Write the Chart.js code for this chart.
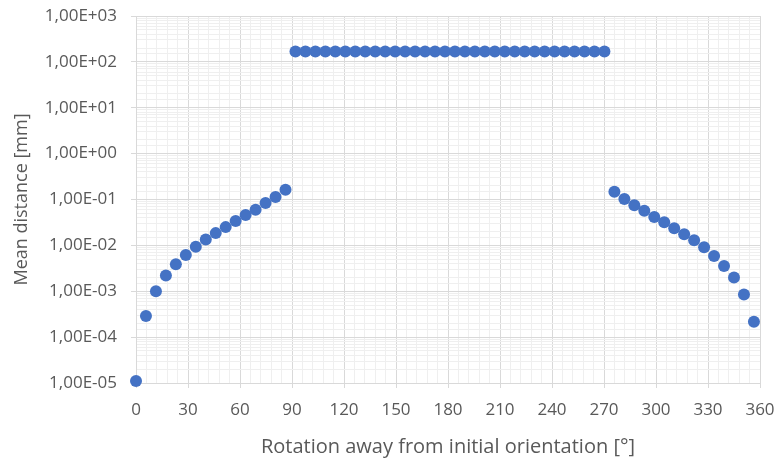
<!DOCTYPE html>
<html>
<head>
<meta charset="utf-8">
<script src="https://cdn.jsdelivr.net/npm/chart.js@4/dist/chart.umd.min.js"></script>
<style>
  html, body { margin: 0; padding: 0; background: #ffffff; }
  #wrap { width: 779px; height: 463px; }
</style>
</head>
<body>
<div id="wrap"><canvas id="distChart" width="779" height="463"></canvas></div>
<script>
// Rotation angle of each sample [deg]
const angleDeg = [
    0, 5.75, 11.5, 17.25, 23, 28.75, 34.5, 40.25, 46, 51.75, 57.5, 63.25, 69, 74.75, 80.5, 86.25,
    92, 97.75, 103.5, 109.25, 115, 120.75, 126.5, 132.25, 138, 143.75, 149.5, 155.25, 161, 166.75, 172.5, 178.25,
    184, 189.75, 195.5, 201.25, 207, 212.75, 218.5, 224.25, 230, 235.75, 241.5, 247.25, 253, 258.75, 264.5, 270.25,
    276, 281.75, 287.5, 293.25, 299, 304.75, 310.5, 316.25, 322, 327.75, 333.5, 339.25, 345, 350.75, 356.5
];

// Mean distance [mm] for each angle
const meanDistance = [
    1.1e-5, 2.9e-4, 1.0e-3, 2.2e-3, 3.9e-3, 6.2e-3, 9.3e-3, 1.35e-2, 1.85e-2, 2.5e-2, 3.4e-2, 4.6e-2, 6.0e-2, 8.4e-2, 0.113, 0.163,
    168, 168, 168, 168, 168, 168, 168, 168, 168, 168, 168, 168, 168, 168, 168, 168,
    168, 168, 168, 168, 168, 168, 168, 168, 168, 168, 168, 168, 168, 168, 168, 168,
    0.147, 0.102, 0.075, 0.057, 0.0414, 0.0318, 0.0236, 0.0175, 0.0129, 9.1e-3, 5.9e-3, 3.56e-3, 2.0e-3, 8.5e-4, 2.17e-4
];

const xMin = 0, xMax = 360, xMajor = 30, xMinor = 6;
const yMin = 1e-5, yMax = 1e3;

const textColor = '#595959';
const majorGrid = '#d9d9d9';
const minorGrid = '#efefef';
const fontName = 'Open Sans';

function isPow10(v) {
    const e = Math.log10(v);
    return Math.abs(e - Math.round(e)) < 1e-6;
}

// Excel style "1,00E+03"
function sciLabel(v) {
    const e = Math.round(Math.log10(v));
    const sign = e < 0 ? '-' : '+';
    const a = Math.abs(e);
    return '1,00E' + sign + (a < 10 ? '0' + a : a);
}

const points = angleDeg.map((a, i) => ({ x: a, y: meanDistance[i] }));

const ctx = document.getElementById('distChart').getContext('2d');
const chart = new Chart(ctx, {
    type: 'scatter',
    data: {
        datasets: [{
            data: points,
            backgroundColor: '#4472c4',
            borderWidth: 0,
            pointRadius: 6,
            pointHoverRadius: 6,
            clip: false
        }]
    },
    options: {
        responsive: false,
        animation: false,
        devicePixelRatio: 1,
        layout: { padding: { top: 16, right: 19, left: 0, bottom: 0 } },
        plugins: {
            legend: { display: false },
            tooltip: { enabled: false }
        },
        scales: {
            x: {
                type: 'linear',
                min: xMin,
                max: xMax,
                afterFit: function(scale) {
                    scale.height = 80;
                    scale.paddingLeft = 0;
                    scale.paddingRight = 0;
                },
                ticks: {
                    stepSize: xMinor,
                    autoSkip: false,
                    maxRotation: 0,
                    padding: 12,
                    color: textColor,
                    font: { family: fontName, size: 17 },
                    callback: function(v) { return v % xMajor === 0 ? String(v) : ''; }
                },
                grid: {
                    color: c => (c.tick && c.tick.value % xMajor === 0) ? majorGrid : minorGrid,
                    tickColor: c => (c.tick && c.tick.value % xMajor === 0) ? majorGrid : 'rgba(0,0,0,0)',
                    tickLength: 5,
                    lineWidth: 1
                },
                border: { color: majorGrid },
                title: {
                    display: true,
                    text: 'Rotation away from initial orientation [°]',
                    color: textColor,
                    font: { family: fontName, size: 20 },
                    padding: { top: 0, bottom: 4 }
                }
            },
            y: {
                type: 'logarithmic',
                min: yMin,
                max: yMax,
                afterFit: function(scale) {
                    scale.width = 136;
                    scale.paddingTop = 0;
                    scale.paddingBottom = 0;
                },
                ticks: {
                    autoSkip: false,
                    padding: 14,
                    color: textColor,
                    font: { family: fontName, size: 17 },
                    callback: function(v) { return isPow10(v) ? sciLabel(v) : ''; }
                },
                grid: {
                    color: c => (c.tick && isPow10(c.tick.value)) ? majorGrid : minorGrid,
                    tickColor: c => (c.tick && isPow10(c.tick.value)) ? majorGrid : 'rgba(0,0,0,0)',
                    tickLength: 5,
                    lineWidth: 1
                },
                border: { color: majorGrid },
                title: {
                    display: true,
                    text: 'Mean distance [mm]',
                    color: textColor,
                    font: { family: fontName, size: 18 },
                    padding: { top: 11, bottom: 0 }
                }
            }
        }
    }
});
</script>
</body>
</html>
